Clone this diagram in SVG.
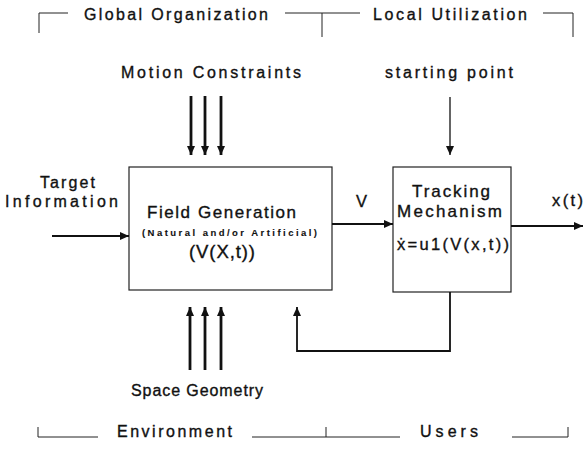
<svg xmlns="http://www.w3.org/2000/svg" width="583" height="455" viewBox="0 0 583 455">
  <style>
    text { font-family: "Liberation Sans", Arial, sans-serif; fill: #111; stroke: #111; stroke-width: 0.35; }
    .lbl { font-size: 16px; }
    .hdr { font-size: 16px; }
    .sml { font-size: 9.5px; font-weight: bold; stroke-width: 0.1; }
    .box { fill: #fff; stroke: #222; stroke-width: 1.2; }
    .brk { fill: none; stroke: #222; stroke-width: 1; }
    .arr { fill: none; stroke: #111; stroke-width: 1.8; marker-end: url(#ah); }
    .thk { fill: none; stroke: #111; stroke-width: 2.8; marker-end: url(#ah); }
  </style>
  <defs>
    <marker id="ah" markerUnits="userSpaceOnUse" markerWidth="9" markerHeight="8" refX="9" refY="4" orient="auto">
      <path d="M0,0 L9,4 L0,8 z" fill="#111"/>
    </marker>
  </defs>
  <rect width="583" height="455" fill="#fff"/>

  <!-- scope brackets, top -->
  <g id="top-brackets">
    <path class="brk" d="M39,33 V13 H68"/>
    <text class="hdr" x="84" y="20" textLength="184" lengthAdjust="spacing">Global Organization</text>
    <path class="brk" d="M285,13 H360 M322,13 V37"/>
    <text class="hdr" x="373" y="20" textLength="154" lengthAdjust="spacing">Local Utilization</text>
    <path class="brk" d="M543,13 H573 V37"/>
  </g>

  <!-- scope brackets, bottom -->
  <g id="bottom-brackets">
    <path class="brk" d="M38,427 V437 H98"/>
    <text class="hdr" x="117" y="437" textLength="115" lengthAdjust="spacing">Environment</text>
    <path class="brk" d="M252,437 H400 M326,427 V437"/>
    <text class="hdr" x="420" y="437" textLength="58" lengthAdjust="spacing">Users</text>
    <path class="brk" d="M512,437 H568 V427"/>
  </g>

  <g id="motion-constraints">
    <text class="lbl" x="121" y="78" textLength="180" lengthAdjust="spacing">Motion Constraints</text>
  </g>
  <g id="starting-point">
    <text class="lbl" x="385" y="78" textLength="128" lengthAdjust="spacing">starting point</text>
  </g>
  <g id="target-information">
    <text class="lbl" x="40" y="188" textLength="55" lengthAdjust="spacing">Target</text>
    <text class="lbl" x="5" y="207" textLength="113" lengthAdjust="spacing">Information</text>
  </g>
  <g id="space-geometry">
    <text class="lbl" x="131" y="396" textLength="132" lengthAdjust="spacing">Space Geometry</text>
  </g>

  <g id="field-generation">
    <rect class="box" x="129" y="167" width="203" height="123"/>
    <text x="147" y="218" font-size="17" textLength="149" lengthAdjust="spacing">Field Generation</text>
    <text class="sml" x="142" y="236" textLength="175" lengthAdjust="spacing">(Natural and/or Artificial)</text>
    <text x="189" y="258" font-size="18.5" textLength="66" lengthAdjust="spacing">(V(X,t))</text>
  </g>

  <g id="tracking-mechanism">
    <rect class="box" x="393" y="167" width="118" height="125"/>
    <text x="412" y="197" font-size="17" textLength="78" lengthAdjust="spacing">Tracking</text>
    <text x="397" y="217" font-size="17" textLength="105" lengthAdjust="spacing">Mechanism</text>
    <text x="397" y="250" font-size="16.5" textLength="112" lengthAdjust="spacing">ẋ=u1(V(x,t))</text>
  </g>

  <g id="signal-labels">
    <text x="356" y="207" font-size="16.5">V</text>
    <text x="552" y="206" font-size="16.5" textLength="31" lengthAdjust="spacing">x(t)</text>
  </g>

  <g id="connectors">
    <path class="thk" d="M191,96 V155"/>
    <path class="thk" d="M205,96 V155"/>
    <path class="thk" d="M221,96 V155"/>
    <path class="arr" d="M450,97 V155" style="stroke-width:1.3"/>
    <path class="thk" d="M190,370 V307"/>
    <path class="thk" d="M205,370 V307"/>
    <path class="thk" d="M221,370 V307"/>
    <path class="arr" d="M52,236 H129"/>
    <path class="arr" d="M332,224 H393"/>
    <path class="arr" d="M511,226 H583"/>
    <path class="arr" d="M450,292 V351 H297 V307"/>
  </g>
</svg>
